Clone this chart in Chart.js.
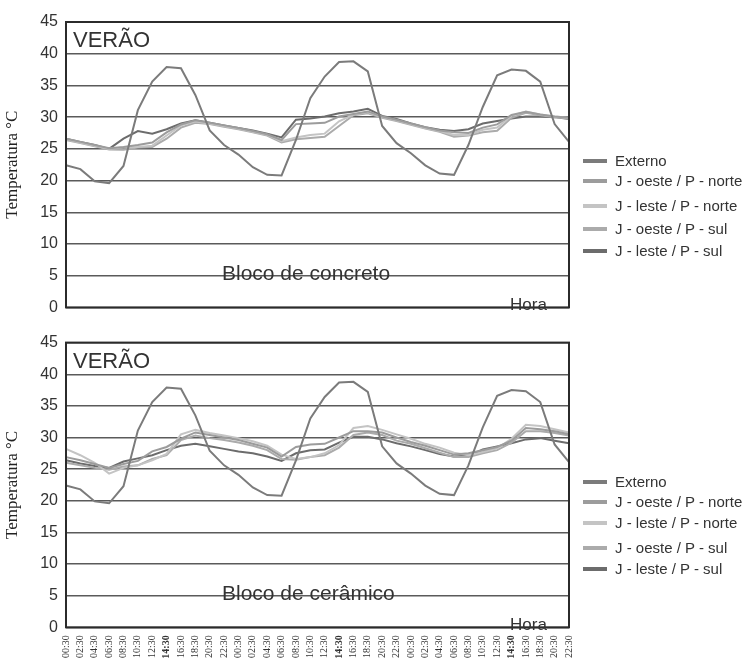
<!DOCTYPE html>
<html><head><meta charset="utf-8">
<script src="https://cdn.jsdelivr.net/npm/chart.js@4"></script>
<style>
html,body{margin:0;padding:0;background:#fff;}
#wrap{position:relative;width:753px;height:658px;overflow:hidden;background:#fff;}
.box{position:absolute;left:0;width:753px;}
.lg{position:absolute;left:583px;font:15px "Liberation Sans",Arial,sans-serif;color:#333;white-space:nowrap;line-height:18px;height:18px;}
.sw{display:inline-block;width:24px;height:4px;vertical-align:middle;margin-right:8px;position:relative;top:-1px;}
</style></head><body>
<div id="wrap">
  <div class="box" style="top:0;height:325px"><canvas id="c1"></canvas></div>
  <div class="box" style="top:325px;height:333px"><canvas id="c2"></canvas></div>
  <div id="leg1"></div>
  <div id="leg2"></div>
</div>
<script>
// ---- data ----
const horas = ['00:30','02:30','04:30','06:30','08:30','10:30','12:30','14:30','16:30','18:30','20:30','22:30',
               '00:30','02:30','04:30','06:30','08:30','10:30','12:30','14:30','16:30','18:30','20:30','22:30',
               '00:30','02:30','04:30','06:30','08:30','10:30','12:30','14:30','16:30','18:30','20:30','22:30'];
const seriesNames = ['Externo','J - oeste / P - norte','J - leste / P - norte','J - oeste / P - sul','J - leste / P - sul'];
const externo = [22.4,21.8,19.9,19.6,22.3,31.1,35.6,37.9,37.7,33.5,27.9,25.6,24.1,22.1,20.9,20.8,26.4,33.0,
                 36.4,38.7,38.8,37.2,28.6,25.9,24.3,22.4,21.1,20.9,25.6,31.6,36.6,37.5,37.3,35.6,28.9,26.1];
// Bloco de concreto
const concOesteNorte = [26.6,26.1,25.6,25.1,25.3,25.6,26.0,27.6,28.85,29.5,29.1,28.7,28.3,27.8,27.3,26.4,28.9,29.0,
                        29.1,30.1,30.5,30.9,30.1,29.6,29.0,28.4,27.9,27.6,27.5,28.35,28.85,30.35,30.85,30.4,30.1,29.9];
const concLesteNorte = [26.5,26.0,25.5,25.0,25.2,25.3,25.5,27.1,28.7,29.3,29.0,28.6,28.2,27.7,27.2,26.2,26.8,27.2,
                        27.4,29.35,30.4,30.8,30.0,29.5,28.9,28.3,27.8,27.2,27.2,28.0,28.35,30.2,30.9,30.4,30.1,29.9];
const concOesteSul   = [26.4,25.9,25.4,24.9,24.85,25.2,25.3,26.6,28.35,29.1,28.9,28.5,28.1,27.6,27.1,26.0,26.5,26.7,
                        26.9,28.6,30.3,30.6,29.9,29.4,28.8,28.2,27.7,26.9,27.1,27.6,27.85,29.9,30.7,30.3,30.0,29.8];
const concLesteSul   = [26.6,26.1,25.6,25.0,26.6,27.8,27.4,28.1,29.0,29.5,29.1,28.7,28.3,27.9,27.4,26.8,29.6,29.8,
                        30.1,30.6,30.9,31.3,30.2,29.7,29.0,28.4,28.0,27.8,28.1,29.0,29.4,29.8,30.1,30.1,30.0,29.7];
// Bloco de cerâmico
const ceraOesteNorte = [26.9,26.4,25.8,25.2,25.8,26.3,27.8,28.5,29.8,30.8,30.4,30.0,29.6,29.0,28.4,27.0,28.5,28.9,
                        29.0,30.0,31.0,31.0,30.8,30.0,29.3,28.7,28.0,27.3,27.5,28.0,28.5,29.5,31.5,31.3,31.0,30.5];
const ceraLesteNorte = [28.2,27.2,26.0,24.3,25.2,25.6,26.4,27.4,30.5,31.2,30.7,30.3,29.9,29.4,28.7,27.3,26.6,26.9,
                        27.5,28.8,31.5,31.8,31.2,30.5,29.8,29.0,28.4,27.6,27.2,27.7,28.3,29.8,32.0,31.8,31.3,30.8];
const ceraOesteSul   = [26.0,25.6,25.2,24.9,25.4,25.6,26.6,27.2,29.6,30.3,29.9,29.6,29.2,28.7,28.0,26.6,26.5,26.9,
                        27.2,28.4,30.4,30.8,30.4,29.5,29.0,28.3,27.6,26.9,26.9,27.5,28.0,29.2,31.0,31.0,30.7,30.3];
const ceraLesteSul   = [26.4,25.9,25.5,25.2,26.2,26.7,27.2,28.0,28.7,29.0,28.6,28.2,27.8,27.5,27.0,26.3,27.5,28.0,
                        28.1,29.2,30.1,30.1,29.7,29.1,28.6,28.0,27.4,27.0,27.1,28.1,28.6,29.1,29.7,29.9,29.5,29.1];

// ---- styles ----
const colors = ['#7b7b7b','#9c9c9c','#c4c4c4','#ababab','#6c6c6c'];
const SANS = '"Liberation Sans", Arial, sans-serif';
const SERIF = '"Liberation Serif", "Times New Roman", serif';

function makeDatasets(arrs){
  return arrs.map((d,i)=>({label:seriesNames[i], data:d, borderColor:colors[i], backgroundColor:colors[i],
    borderWidth:2, pointRadius:0, tension:0, fill:false}));
}

const framePlugin = {
  id:'frame',
  afterDatasetsDraw(chart, args, opts){
    const {ctx, chartArea:a} = chart;
    ctx.save();
    ctx.strokeStyle = '#2b2b2b'; ctx.lineWidth = 2;
    ctx.strokeRect(a.left, a.top, a.right-a.left, a.bottom-a.top);
    ctx.fillStyle = '#333'; ctx.textAlign = 'left'; ctx.textBaseline = 'alphabetic';
    ctx.font = '22px ' + SANS; ctx.fillText('VERÃO', a.left+7, a.top+25);
    ctx.font = '21px ' + SANS; ctx.fillText(opts.bloco, 222, a.top+257.5);
    ctx.font = '17px ' + SANS; ctx.fillText('Hora', 510, a.top+287.5);
    ctx.restore();
  }
};

function yScale(){
  return {
    min:0, max:45,
    ticks:{stepSize:5, padding:8, color:'#333', font:{family:SANS, size:16}},
    grid:{color:'#5a5a5a', lineWidth:1.4, drawTicks:false},
    border:{display:false},
    title:{display:true, text:'Temperatura °C', color:'#222', font:{family:SERIF, size:17}, padding:{top:2,bottom:0}},
    afterFit(s){ s.width = 66; }
  };
}

Chart.defaults.devicePixelRatio = 1;

new Chart(document.getElementById('c1'), {
  type:'line',
  data:{labels:horas, datasets:makeDatasets([externo, concOesteNorte, concLesteNorte, concOesteSul, concLesteSul])},
  options:{
    responsive:true, maintainAspectRatio:false, animation:false,
    layout:{padding:{left:0, right:184, top:22, bottom:4.5}},
    plugins:{legend:{display:false}, tooltip:{enabled:false}, frame:{bloco:'Bloco de concreto'}},
    scales:{
      x:{display:false},
      y:yScale()
    }
  },
  plugins:[framePlugin]
});

new Chart(document.getElementById('c2'), {
  type:'line',
  data:{labels:horas, datasets:makeDatasets([externo, ceraOesteNorte, ceraLesteNorte, ceraOesteSul, ceraLesteSul])},
  options:{
    responsive:true, maintainAspectRatio:false, animation:false,
    layout:{padding:{left:0, right:184, top:4.3, bottom:0}},
    plugins:{legend:{display:false}, tooltip:{enabled:false}, frame:{bloco:'Bloco de cerâmico'}},
    scales:{
      x:{
        grid:{display:false, drawTicks:false}, border:{display:false},
        ticks:{autoSkip:false, minRotation:90, maxRotation:90, padding:8, color:'#333',
          font:(c)=>({family:SERIF, size:10, weight: horas[c.index]==='14:30' ? 'bold' : 'normal'})},
        afterFit(s){ s.height = 30.7; }
      },
      y:yScale()
    }
  },
  plugins:[framePlugin]
});

// ---- legends ----
function buildLegend(id, rows){
  const el = document.getElementById(id);
  seriesNames.forEach((n,i)=>{
    const d = document.createElement('div');
    d.className = 'lg';
    d.style.top = (rows[i]-9) + 'px';
    const s = document.createElement('span');
    s.className = 'sw'; s.style.background = colors[i];
    d.appendChild(s);
    d.appendChild(document.createTextNode(n));
    el.appendChild(d);
  });
}
buildLegend('leg1', [161,181,206,229,251]);
buildLegend('leg2', [482,502,523,548,569]);
</script>
</body></html>
